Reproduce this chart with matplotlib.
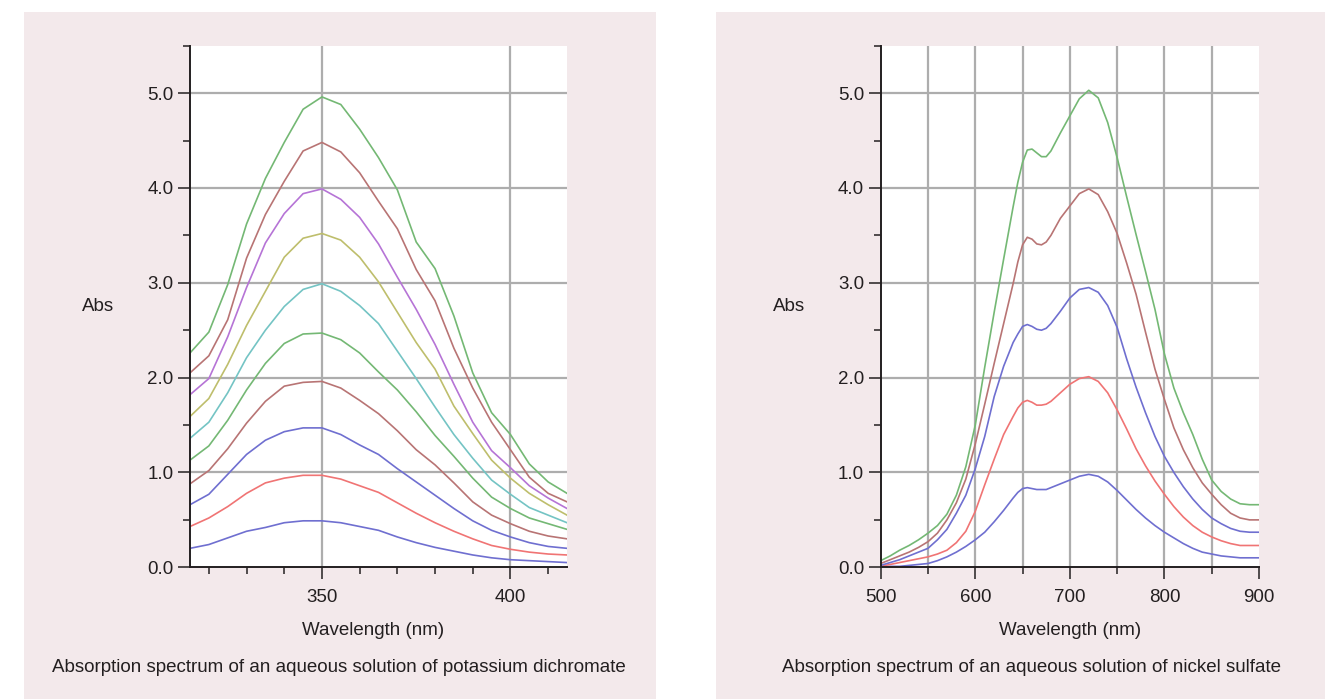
import matplotlib.pyplot as plt
from matplotlib.patches import Rectangle
from matplotlib.ticker import FixedLocator, FormatStrFormatter

plt.rcParams["font.family"] = ["Liberation Sans", "DejaVu Sans"]

_INK = "#231f20"
_PINK = "#f3e9eb"
_GRID = "#adadad"
_BLUE = "#6f6fd0"
_RED = "#f07474"
_BROWN = "#b87474"
_GREEN = "#74b874"
_TEAL = "#74c4c4"
_OLIVE = "#bebe6c"
_PURPLE = "#b674d6"

# Potassium dichromate, 315-415 nm every 5 nm
dichromate_nm = [315, 320, 325, 330, 335, 340, 345, 350, 355, 360, 365,
                 370, 375, 380, 385, 390, 395, 400, 405, 410, 415]
dichromate_050 = [0.20, 0.24, 0.31, 0.38, 0.42, 0.47, 0.49, 0.49, 0.47, 0.43, 0.39,
                  0.32, 0.26, 0.21, 0.17, 0.13, 0.10, 0.08, 0.07, 0.06, 0.05]
dichromate_100 = [0.43, 0.52, 0.64, 0.78, 0.89, 0.94, 0.97, 0.97, 0.93, 0.86, 0.79,
                  0.68, 0.57, 0.47, 0.38, 0.30, 0.23, 0.19, 0.16, 0.14, 0.13]
dichromate_150 = [0.66, 0.77, 0.98, 1.19, 1.34, 1.43, 1.47, 1.47, 1.40, 1.29, 1.19,
                  1.04, 0.90, 0.76, 0.62, 0.49, 0.39, 0.32, 0.26, 0.22, 0.20]
dichromate_200 = [0.88, 1.02, 1.25, 1.52, 1.75, 1.91, 1.95, 1.96, 1.89, 1.76, 1.62,
                  1.44, 1.24, 1.08, 0.89, 0.69, 0.55, 0.46, 0.38, 0.33, 0.30]
dichromate_250 = [1.13, 1.28, 1.55, 1.87, 2.15, 2.36, 2.46, 2.47, 2.40, 2.26, 2.06,
                  1.87, 1.64, 1.39, 1.17, 0.94, 0.74, 0.62, 0.52, 0.46, 0.40]
dichromate_300 = [1.36, 1.53, 1.84, 2.21, 2.50, 2.75, 2.93, 2.99, 2.91, 2.76, 2.57,
                  2.28, 1.99, 1.69, 1.40, 1.15, 0.92, 0.77, 0.63, 0.55, 0.47]
dichromate_350 = [1.59, 1.78, 2.14, 2.55, 2.91, 3.27, 3.47, 3.52, 3.45, 3.27, 3.01,
                  2.69, 2.37, 2.09, 1.70, 1.41, 1.13, 0.94, 0.78, 0.66, 0.55]
dichromate_400 = [1.82, 1.99, 2.43, 2.95, 3.42, 3.73, 3.94, 3.99, 3.88, 3.69, 3.41,
                  3.06, 2.72, 2.35, 1.93, 1.53, 1.23, 1.05, 0.86, 0.73, 0.62]
dichromate_450 = [2.05, 2.23, 2.61, 3.26, 3.72, 4.07, 4.39, 4.48, 4.38, 4.16, 3.86,
                  3.57, 3.14, 2.81, 2.31, 1.89, 1.53, 1.24, 0.95, 0.78, 0.69]
dichromate_500 = [2.26, 2.48, 2.98, 3.62, 4.10, 4.48, 4.83, 4.96, 4.88, 4.62, 4.32,
                  3.98, 3.43, 3.15, 2.65, 2.05, 1.63, 1.40, 1.09, 0.90, 0.78]

# Nickel sulfate, 500-900 nm
nickel_nm = [500, 510, 520, 530, 540, 550, 560, 570, 580, 590, 600, 610, 620,
             630, 640, 645, 650, 655, 660, 665, 670, 675, 680, 690, 700, 710,
             720, 730, 740, 750, 760, 770, 780, 790, 800, 810, 820, 830, 840,
             850, 860, 870, 880, 890, 900]
nickel_1 = [0.00, 0.01, 0.01, 0.02, 0.03, 0.04, 0.07, 0.11, 0.16, 0.22, 0.29, 0.37, 0.48,
            0.60, 0.73, 0.79, 0.83, 0.84, 0.83, 0.82, 0.82, 0.82, 0.84, 0.88, 0.92, 0.96,
            0.98, 0.96, 0.90, 0.81, 0.71, 0.61, 0.52, 0.44, 0.37, 0.31, 0.25, 0.20, 0.16,
            0.14, 0.12, 0.11, 0.10, 0.10, 0.10]
nickel_2 = [0.01, 0.03, 0.05, 0.07, 0.09, 0.11, 0.14, 0.18, 0.26, 0.38, 0.59, 0.87, 1.14,
            1.40, 1.59, 1.68, 1.74, 1.76, 1.74, 1.71, 1.71, 1.72, 1.75, 1.84, 1.93, 1.99,
            2.01, 1.96, 1.84, 1.66, 1.46, 1.25, 1.07, 0.91, 0.77, 0.64, 0.53, 0.44, 0.37,
            0.32, 0.28, 0.25, 0.23, 0.23, 0.23]
nickel_3 = [0.02, 0.05, 0.08, 0.12, 0.16, 0.20, 0.29, 0.40, 0.57, 0.76, 1.04, 1.38, 1.80,
            2.12, 2.37, 2.46, 2.54, 2.56, 2.54, 2.51, 2.50, 2.52, 2.57, 2.70, 2.84, 2.93,
            2.95, 2.90, 2.76, 2.53, 2.20, 1.90, 1.63, 1.38, 1.17, 1.00, 0.85, 0.72, 0.61,
            0.52, 0.46, 0.41, 0.38, 0.37, 0.37]
nickel_4 = [0.04, 0.08, 0.12, 0.16, 0.21, 0.27, 0.36, 0.50, 0.68, 0.93, 1.30, 1.72, 2.15,
            2.57, 2.99, 3.22, 3.40, 3.48, 3.46, 3.41, 3.40, 3.43, 3.50, 3.68, 3.81, 3.94,
            3.99, 3.93, 3.75, 3.52, 3.21, 2.88, 2.48, 2.09, 1.77, 1.47, 1.24, 1.05, 0.89,
            0.77, 0.66, 0.57, 0.52, 0.50, 0.50]
nickel_5 = [0.07, 0.12, 0.18, 0.23, 0.29, 0.36, 0.44, 0.56, 0.76, 1.06, 1.50, 2.11, 2.69,
            3.25, 3.80, 4.06, 4.27, 4.40, 4.41, 4.37, 4.33, 4.33, 4.39, 4.58, 4.76, 4.94,
            5.03, 4.95, 4.69, 4.32, 3.91, 3.51, 3.12, 2.72, 2.25, 1.89, 1.63, 1.40, 1.14,
            0.92, 0.80, 0.72, 0.67, 0.66, 0.66]

abs_ticks = [0, 1, 2, 3, 4, 5]
abs_minor = [0.5, 1.5, 2.5, 3.5, 4.5, 5.5]

panels = [
    {
        "rect": (190, 567, 45.7, 567.3),
        "box": (24, 656),
        "x": dichromate_nm,
        "series": [dichromate_050, dichromate_100, dichromate_150, dichromate_200,
                   dichromate_250, dichromate_300, dichromate_350, dichromate_400,
                   dichromate_450, dichromate_500],
        "colors": [_BLUE, _RED, _BLUE, _BROWN, _GREEN, _TEAL, _OLIVE, _PURPLE,
                   _BROWN, _GREEN],
        "xlim": (315, 415),
        "xmajor": [350, 400],
        "xminor": [320, 330, 340, 360, 370, 380, 390, 410],
        "xgrid": [350, 400],
        "xlabel_x": 0.485,
        "caption": "Absorption spectrum of an aqueous solution of potassium dichromate",
        "caption_x": 339,
    },
    {
        "rect": (880.7, 1259, 45.7, 567.3),
        "box": (716, 1325),
        "x": nickel_nm,
        "series": [nickel_1, nickel_2, nickel_3, nickel_4, nickel_5],
        "colors": [_BLUE, _RED, _BLUE, _BROWN, _GREEN],
        "xlim": (500, 900),
        "xmajor": [500, 600, 700, 800, 900],
        "xminor": [550, 650, 750, 850],
        "xgrid": [550, 600, 650, 700, 750, 800, 850],
        "xlabel_x": 0.5,
        "caption": "Absorption spectrum of an aqueous solution of nickel sulfate",
        "caption_x": 1032,
    },
]

W, H = 1325, 699
fig = plt.figure(figsize=(W / 100, H / 100), dpi=100, facecolor="white")

for p in panels:
    # pink card behind each panel
    bx0, bx1 = p["box"]
    fig.patches.append(Rectangle((bx0 / W, 0), (bx1 - bx0) / W, (H - 12) / H,
                                 transform=fig.transFigure, facecolor=_PINK,
                                 edgecolor="none", zorder=-10))
    x0, x1, top, bottom = p["rect"]
    ax = fig.add_axes([x0 / W, (H - bottom) / H, (x1 - x0) / W, (bottom - top) / H])
    ax.set_facecolor("white")

    for xv in p["xgrid"]:
        ax.axvline(xv, color=_GRID, linewidth=1.6, zorder=1)
    for yv in abs_ticks[1:]:
        ax.axhline(yv, color=_GRID, linewidth=1.6, zorder=1)

    for values, color in zip(p["series"], p["colors"]):
        ax.plot(p["x"], values, color=color, linewidth=1.2, zorder=2)

    ax.set_xlim(*p["xlim"])
    ax.set_ylim(0, 5.5)
    ax.xaxis.set_major_locator(FixedLocator(p["xmajor"]))
    ax.xaxis.set_minor_locator(FixedLocator(p["xminor"]))
    ax.yaxis.set_major_locator(FixedLocator(abs_ticks))
    ax.yaxis.set_minor_locator(FixedLocator(abs_minor))
    ax.yaxis.set_major_formatter(FormatStrFormatter("%.1f"))

    for side in ("top", "right"):
        ax.spines[side].set_visible(False)
    for side in ("left", "bottom"):
        ax.spines[side].set_color(_INK)
        ax.spines[side].set_linewidth(1.4)
        ax.spines[side].set_zorder(3)
    ax.tick_params(which="major", length=8.5, width=1.1, color=_INK,
                   labelcolor=_INK, labelsize=13.5, direction="out")
    ax.tick_params(which="minor", length=5, width=1.1, color=_INK, direction="out")
    ax.tick_params(axis="y", pad=3.5)
    ax.tick_params(axis="x", pad=7)

    ax.set_ylabel("Abs", rotation=0, fontsize=13.5, color=_INK, ha="center", va="center")
    ax.yaxis.set_label_coords(-0.243, 0.5)
    ax.set_xlabel("Wavelength (nm)", fontsize=13.5, color=_INK, va="center")
    ax.xaxis.set_label_coords(p["xlabel_x"], -0.122)

    fig.text(p["caption_x"] / W, 1 - 667 / H, p["caption"], fontsize=13.5,
             color=_INK, ha="center", va="center")

fig.savefig("out.png", dpi=100, facecolor="white")
